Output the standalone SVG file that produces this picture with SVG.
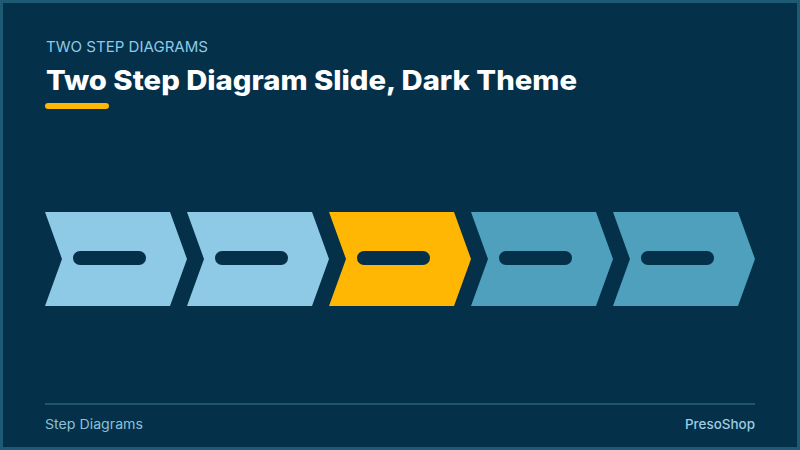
<svg xmlns="http://www.w3.org/2000/svg" width="800" height="450" viewBox="0 0 800 450">
<defs>
<style>
.bg{fill:#04304a;stroke:#1d5a73;stroke-width:3}
.light{fill:#8ecae6}
.gold{fill:#ffb703}
.teal{fill:#4fa0bc}
.bar{fill:#04304a}
.kicker{font-family:Inter,"Open Sans",sans-serif;font-size:15px;fill:#8ecae6}
.title{font-family:Inter,"Open Sans",sans-serif;font-weight:800;font-size:27px;fill:#ffffff}
.foot{font-family:Inter,"Open Sans",sans-serif;font-size:13px;fill:#8ec0d8}
.brand{font-family:Inter,"Open Sans",sans-serif;font-weight:500;font-size:13px;fill:#9ccde2}
</style>
<polygon id="chev" points="0,212 125,212 142,259 125,306 0,306 17,259"/>
</defs>
<rect class="bg" x="1.5" y="1.5" width="797" height="447"/>
<g id="header">
<text class="kicker" x="46" y="52" textLength="162" lengthAdjust="spacingAndGlyphs">TWO STEP DIAGRAMS</text>
<text class="title" x="46" y="90" textLength="531" lengthAdjust="spacingAndGlyphs">Two Step Diagram Slide, Dark Theme</text>
<rect class="gold" x="45" y="103" width="64" height="6" rx="3"/>
</g>
<g id="connectors"></g>
<g id="step1"><use href="#chev" x="45" class="light"/><rect class="bar" x="73" y="251" width="73" height="14" rx="7"/></g>
<g id="step2"><use href="#chev" x="187" class="light"/><rect class="bar" x="215" y="251" width="73" height="14" rx="7"/></g>
<g id="step3"><use href="#chev" x="329" class="gold"/><rect class="bar" x="357" y="251" width="73" height="14" rx="7"/></g>
<g id="step4"><use href="#chev" x="471" class="teal"/><rect class="bar" x="499" y="251" width="73" height="14" rx="7"/></g>
<g id="step5"><use href="#chev" x="613" class="teal"/><rect class="bar" x="641" y="251" width="73" height="14" rx="7"/></g>
<g id="footer">
<line x1="45" y1="404" x2="755" y2="404" stroke="#1e5670" stroke-width="2"/>
<text class="foot" x="45" y="429" textLength="98" lengthAdjust="spacingAndGlyphs">Step Diagrams</text>
<text class="brand" x="755" y="429" text-anchor="end" textLength="70" lengthAdjust="spacingAndGlyphs">PresoShop</text>
</g>
</svg>
